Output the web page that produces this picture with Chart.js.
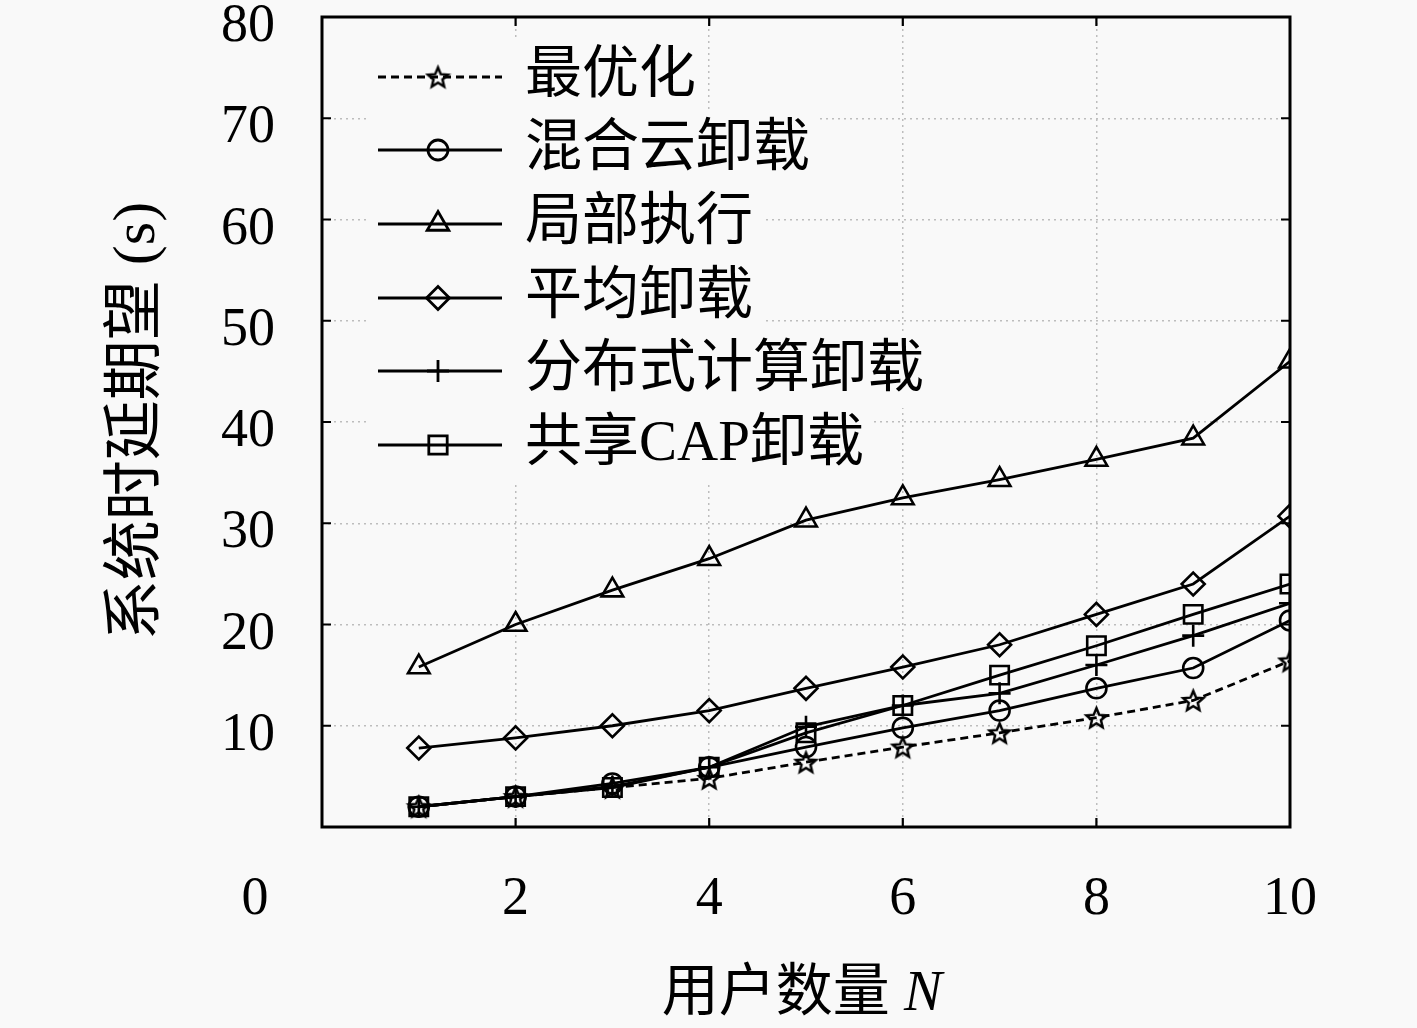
<!DOCTYPE html>
<html>
<head>
<meta charset="utf-8">
<script src="https://cdn.jsdelivr.net/npm/chart.js@4.4.0/dist/chart.umd.min.js"></script>
<style>
  html, body { margin: 0; padding: 0; background: #f9f9f9; }
  #wrap { width: 1417px; height: 1028px; }
</style>
</head>
<body>
<div id="wrap"><canvas id="chart" width="1417" height="1028"></canvas></div>
<script>
// ─── DATA ─────────────────────────────────────────────────
const users       = [1, 2, 3, 4, 5, 6, 7, 8, 9, 10];
const optimal     = [2.0, 3.0, 3.9, 4.8, 6.4, 7.9, 9.3, 10.8, 12.5, 16.4];
const hybridCloud = [2.0, 3.0, 4.3, 5.9, 7.9, 9.8, 11.5, 13.7, 15.7, 20.4];
const localExec   = [15.8, 20.0, 23.4, 26.5, 30.3, 32.5, 34.3, 36.3, 38.4, 46.0];
const average     = [7.8, 8.8, 10.0, 11.5, 13.7, 15.8, 18.0, 21.0, 24.0, 30.7];
const distributed = [2.0, 3.0, 4.0, 5.9, 9.9, 12.0, 13.2, 16.0, 18.9, 22.1];
const sharedCap   = [2.0, 3.0, 3.9, 5.9, 9.3, 12.0, 15.0, 17.9, 21.0, 24.0];
const seriesNames = ['最优化', '混合云卸载', '局部执行', '平均卸载', '分布式计算卸载', '共享CAP卸载'];
const xTicks = [2, 4, 6, 8, 10];
const yTicks = [10, 20, 30, 40, 50, 60, 70, 80];

const NUM_FONT = '"Liberation Serif", "DejaVu Serif", serif';
const TXT_FONT = '"Liberation Serif", "Noto Sans CJK SC", serif';
const BG = '#f9f9f9';
const LW = 2.8;

// hollow star marker (Chart.js has no pentagram)
function makeStar(r) {
    const c = document.createElement('canvas');
    c.width = c.height = Math.ceil(r * 2 + 6);
    const g = c.getContext('2d');
    const cx = c.width / 2, cy = c.height / 2 + 1;
    g.beginPath();
    for (let i = 0; i < 10; i++) {
        const a = -Math.PI / 2 + i * Math.PI / 5;
        const rr = i % 2 ? r * 0.45 : r;
        g.lineTo(cx + rr * Math.cos(a), cy + rr * Math.sin(a));
    }
    g.closePath();
    g.lineWidth = 2.5;
    g.strokeStyle = '#000';
    g.stroke();
    return c;
}
const starImg = makeStar(10.5);

const styles = [
    { pointStyle: starImg,    radius: 10.5, dash: [8, 5] },
    { pointStyle: 'circle',   radius: 10,   dash: [] },
    { pointStyle: 'triangle', radius: 12.5, dash: [] },
    { pointStyle: 'rectRot',  radius: 11.5, dash: [] },
    { pointStyle: 'cross',    radius: 11,   dash: [] },
    { pointStyle: 'rect',     radius: 13,   dash: [] },
];
const values = [optimal, hybridCloud, localExec, average, distributed, sharedCap];

const datasets = values.map((vals, i) => ({
    label: seriesNames[i],
    data: users.map((x, j) => ({ x, y: vals[j] })),
    borderColor: '#000',
    backgroundColor: 'rgba(0,0,0,0)',
    borderWidth: LW,
    borderDash: styles[i].dash,
    pointStyle: styles[i].pointStyle,
    pointRadius: styles[i].radius,
    pointHoverRadius: styles[i].radius,
    pointBorderColor: '#000',
    pointBackgroundColor: 'rgba(0,0,0,0)',
    pointBorderWidth: 2.6,
    tension: 0,
    fill: false,
}));

// ─── FRAME, INNER TICKS, LEGEND, TITLES ───────────────────
const decor = {
    id: 'decor',
    beforeDatasetsDraw(chart) {
        const { ctx, chartArea: a, scales: { x, y } } = chart;
        ctx.save();
        ctx.strokeStyle = '#000';
        ctx.lineWidth = 2.2;
        const t = 9;
        yTicks.forEach(v => {
            if (v >= 80) return;
            const py = y.getPixelForValue(v);
            ctx.beginPath();
            ctx.moveTo(a.left, py); ctx.lineTo(a.left + t, py);
            ctx.moveTo(a.right, py); ctx.lineTo(a.right - t, py);
            ctx.stroke();
        });
        xTicks.forEach(v => {
            if (v >= 10) return;
            const px = x.getPixelForValue(v);
            ctx.beginPath();
            ctx.moveTo(px, a.bottom); ctx.lineTo(px, a.bottom - t);
            ctx.moveTo(px, a.top); ctx.lineTo(px, a.top + t);
            ctx.stroke();
        });
        ctx.lineWidth = 3;
        ctx.strokeRect(a.left, a.top, a.right - a.left, a.bottom - a.top);
        ctx.restore();
    },
    afterDatasetsDraw(chart) {
        const { ctx } = chart;
        const rows = [77, 150, 224, 298, 371, 445];
        ctx.save();
        ctx.font = '57px ' + TXT_FONT;
        ctx.textBaseline = 'middle';
        ctx.textAlign = 'left';
        chart.data.datasets.forEach((ds, i) => {
            const ry = rows[i];
            const w = ctx.measureText(ds.label).width;
            ctx.fillStyle = BG;
            ctx.fillRect(368, ry - 37, 525 + w + 10 - 368, 74);
            ctx.strokeStyle = '#000';
            ctx.lineWidth = LW;
            ctx.setLineDash(ds.borderDash || []);
            ctx.beginPath();
            ctx.moveTo(378, ry); ctx.lineTo(502, ry);
            ctx.stroke();
            ctx.setLineDash([]);
            ctx.fillStyle = 'rgba(0,0,0,0)';
            if (Chart.helpers && Chart.helpers.drawPoint) {
                Chart.helpers.drawPoint(ctx, {
                    pointStyle: ds.pointStyle, radius: ds.pointRadius,
                    rotation: 0, borderWidth: 2.6
                }, 438, ry);
            }
            ctx.fillStyle = '#000';
            ctx.fillText(ds.label, 525, ry);
        });
        ctx.restore();
    },
    afterDraw(chart) {
        const { ctx } = chart;
        ctx.save();
        ctx.fillStyle = '#000';
        ctx.textBaseline = 'middle';
        // origin label
        ctx.font = '54px ' + NUM_FONT;
        ctx.textAlign = 'center';
        ctx.fillText('0', 255, 900);
        // x title
        const cjk = '用户数量 ';
        ctx.font = '57px ' + TXT_FONT;
        const w1 = ctx.measureText(cjk).width;
        ctx.font = 'italic 57px ' + NUM_FONT;
        const w2 = ctx.measureText('N').width;
        const sx = 802 - (w1 + w2) / 2;
        ctx.textAlign = 'left';
        ctx.font = '57px ' + TXT_FONT;
        ctx.fillText(cjk, sx, 995);
        ctx.font = 'italic 57px ' + NUM_FONT;
        ctx.fillText('N', sx + w1, 995);
        // y title
        ctx.translate(138, 421);
        ctx.rotate(-Math.PI / 2);
        ctx.textAlign = 'center';
        ctx.font = '60px ' + TXT_FONT;
        ctx.fillText('系统时延期望 (s)', 0, 0);
        ctx.restore();
    }
};

const gridColor = (edgeA, edgeB) => c =>
    (c.tick && (c.tick.value === edgeA || c.tick.value === edgeB)) ? 'rgba(0,0,0,0)' : '#bdbdbd';

new Chart(document.getElementById('chart'), {
    type: 'line',
    data: { datasets },
    plugins: [decor],
    options: {
        responsive: false,
        animation: false,
        events: [],
        layout: { padding: { top: 17, right: 127, left: 0, bottom: 0 } },
        plugins: { legend: { display: false }, tooltip: { enabled: false } },
        scales: {
            x: {
                type: 'linear', min: 0, max: 10,
                afterFit: s => { s.height = 201; },
                afterBuildTicks: s => { s.ticks = [0].concat(xTicks).map(v => ({ value: v })); },
                grid: { color: gridColor(0, 10), lineWidth: 1.5, drawTicks: true, tickLength: 59, tickColor: 'rgba(0,0,0,0)' },
                border: { display: false, dash: [2, 4] },
                ticks: {
                    padding: 0,
                    color: '#000',
                    font: { family: NUM_FONT, size: 54, lineHeight: 0.5 },
                    callback: v => (v === 0 ? '' : String(v)),
                    maxRotation: 0,
                },
            },
            y: {
                min: 0, max: 80,
                afterFit: s => { s.width = 322; },
                afterBuildTicks: s => { s.ticks = [0].concat(yTicks).map(v => ({ value: v })); },
                grid: { color: gridColor(0, 80), lineWidth: 1.5, drawTicks: true, tickLength: 47, tickColor: 'rgba(0,0,0,0)' },
                border: { display: false, dash: [2, 4] },
                ticks: {
                    padding: 0,
                    labelOffset: 10,
                    color: '#000',
                    font: { family: NUM_FONT, size: 54, lineHeight: 0.5 },
                    callback: v => (v === 0 ? '' : String(v)),
                },
            },
        },
    },
});
</script>
</body>
</html>
